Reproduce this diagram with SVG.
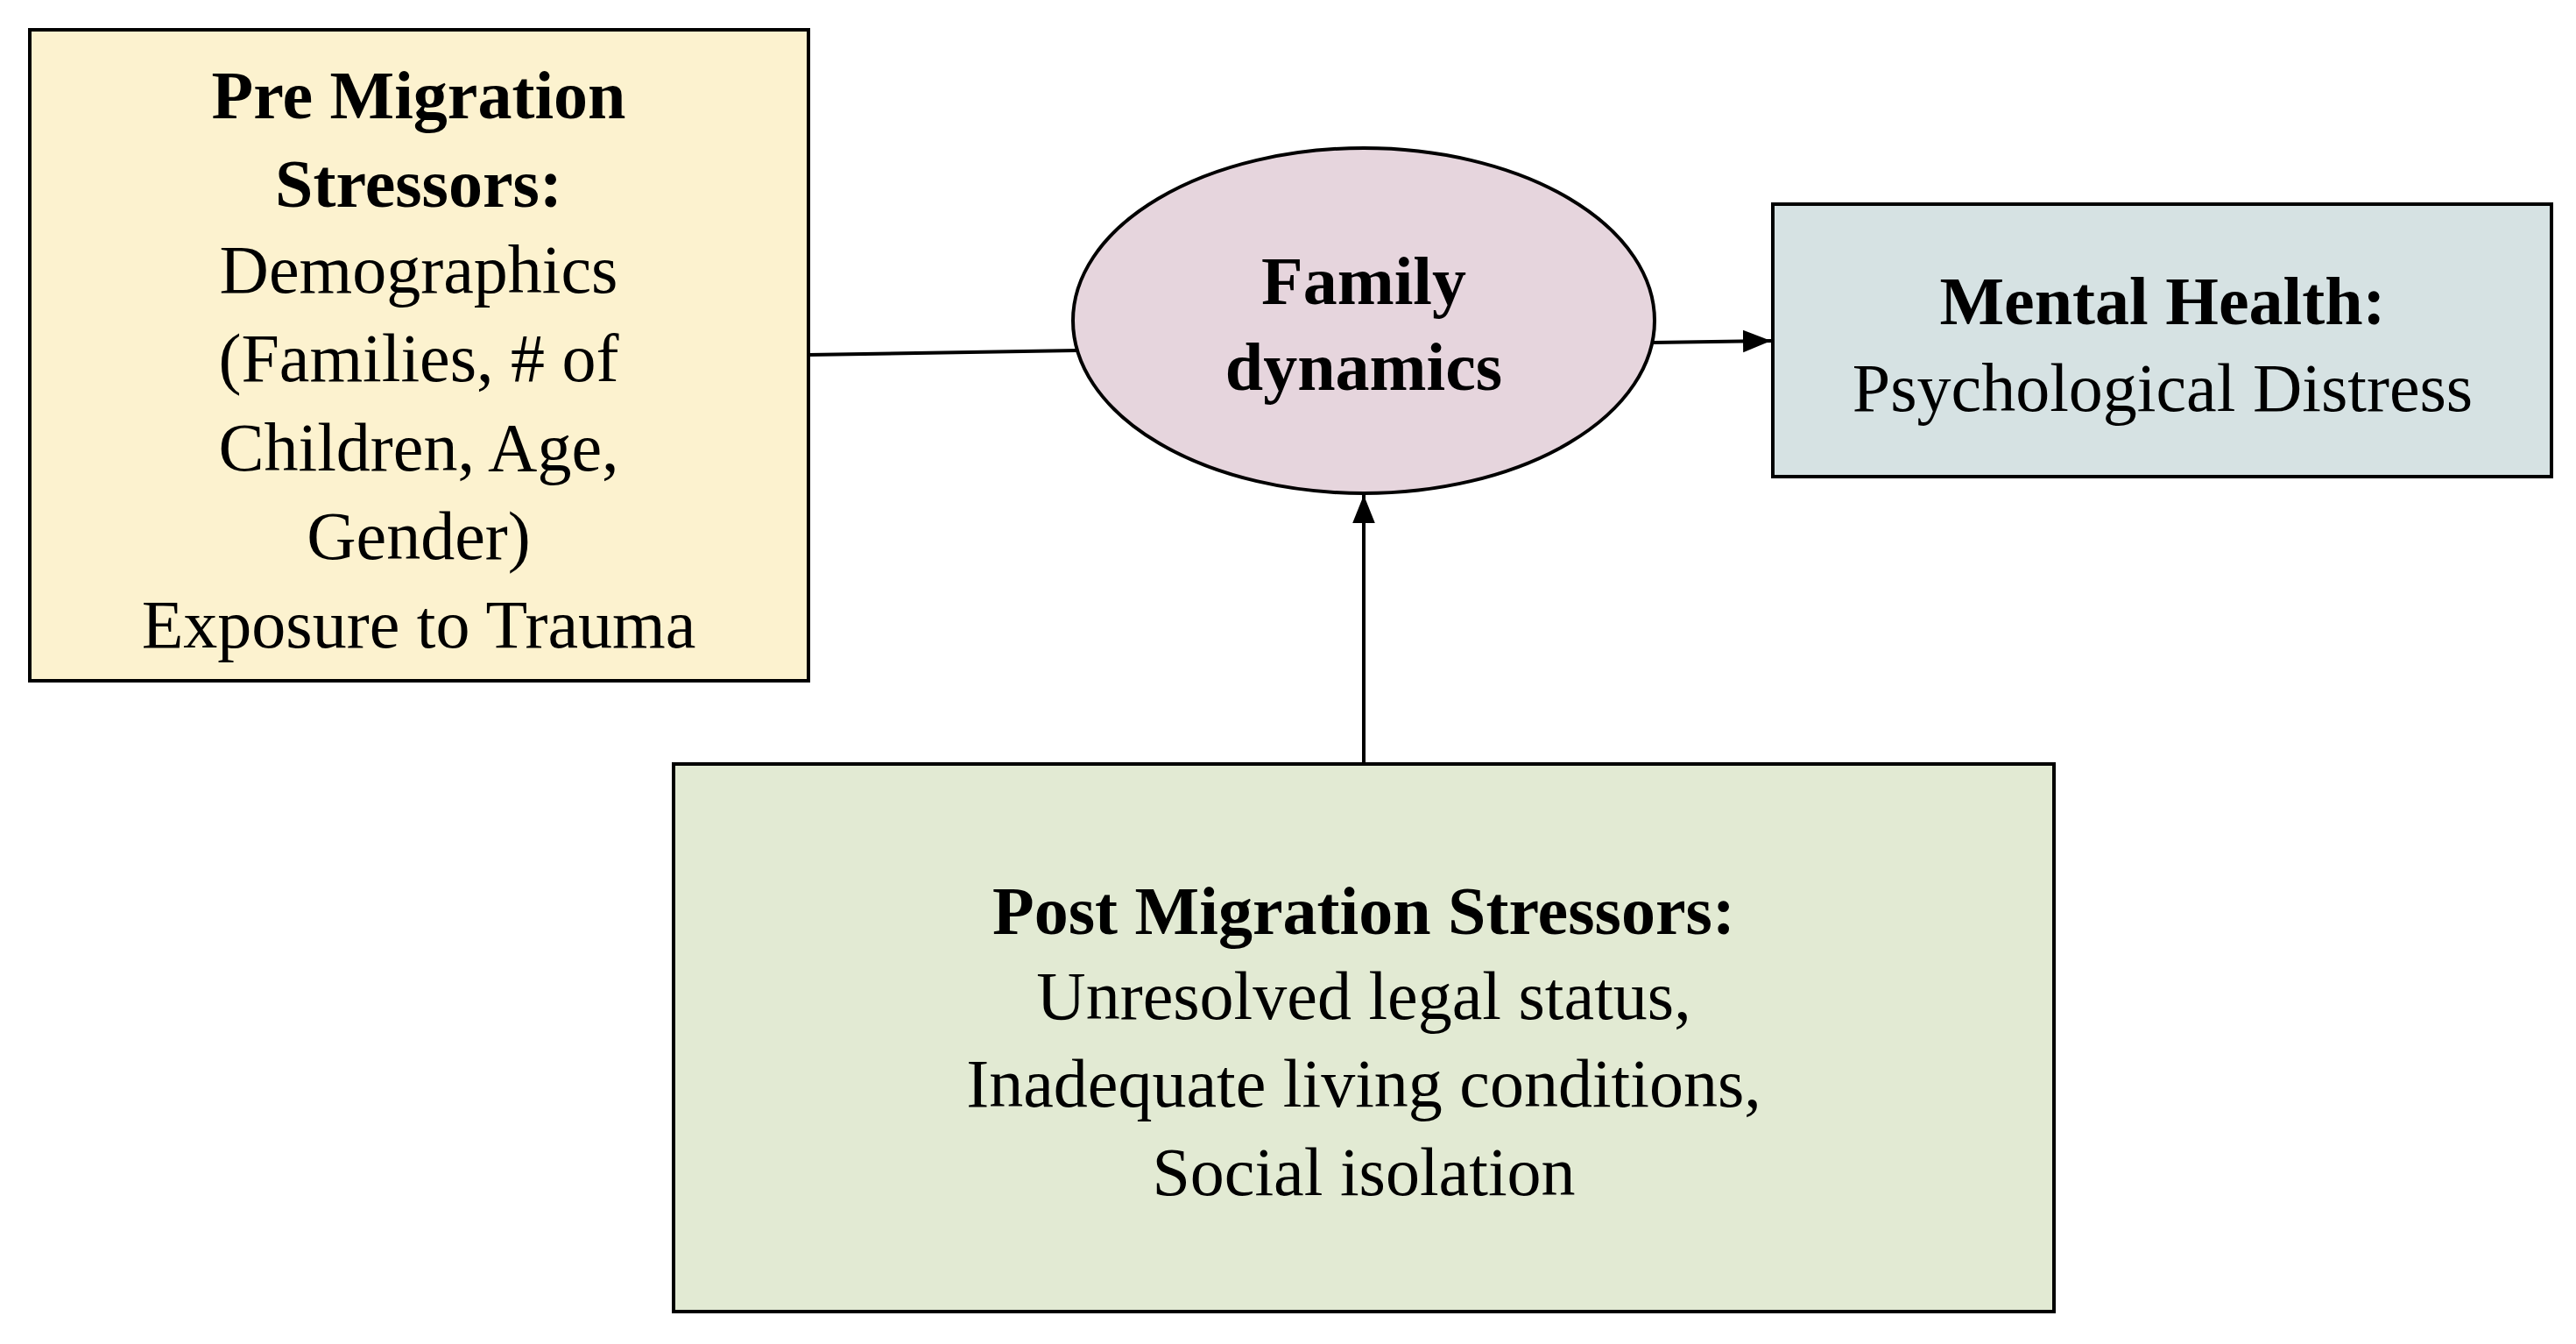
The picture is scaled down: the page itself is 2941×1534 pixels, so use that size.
<svg xmlns="http://www.w3.org/2000/svg" width="2941" height="1534" viewBox="0 0 2941 1534">
<style>
.b{stroke:#000;stroke-width:4}
text{font-family:"Liberation Serif","Times New Roman",serif;font-size:78px;text-anchor:middle;fill:#000}
.h{font-weight:bold}
</style>
<defs><marker id="a" viewBox="0 0 10 10" refX="10" refY="5" markerWidth="9" markerHeight="9" markerUnits="userSpaceOnUse" orient="auto"><path d="M0,0L10,5L0,10z"/></marker>
<marker id="m" viewBox="0 0 10 10" refX="10" refY="5" markerWidth="32" markerHeight="32" markerUnits="userSpaceOnUse" orient="auto"><path d="M0,1L10,5L0,9z"/></marker></defs>
<rect width="2941" height="1534" fill="#fff"/>
<g id="connectors" stroke="#000" stroke-width="4" fill="none">
<line x1="923" y1="405" x2="1229" y2="400"/>
<line x1="1887" y1="391" x2="2022" y2="389" marker-end="url(#m)"/>
<line x1="1557" y1="872" x2="1557" y2="565" marker-end="url(#m)"/>
</g>
<g id="pre"><rect class="b" x="34" y="34" width="889" height="743" fill="#FCF2CF"/>
<text x="478" y="135" class="h">Pre Migration</text><text x="478" y="236" class="h">Stressors:</text>
<text x="478" y="334">Demographics</text><text x="478" y="435">(Families, # of</text><text x="478" y="537">Children, Age,</text><text x="478" y="638">Gender)</text><text x="478" y="739">Exposure to Trauma</text></g>
<g id="family"><ellipse class="b" cx="1557" cy="366" rx="332" ry="197" fill="#E6D5DD"/>
<text x="1557" y="347" class="h">Family</text><text x="1557" y="445" class="h">dynamics</text></g>
<g id="mental"><rect class="b" x="2024" y="233" width="889" height="311" fill="#D6E2E3"/>
<text x="2469" y="370" class="h">Mental Health:</text><text x="2469" y="469">Psychological Distress</text></g>
<g id="post"><rect class="b" x="769" y="872" width="1576" height="625" fill="#E2EAD3"/>
<text x="1557" y="1066" class="h">Post Migration Stressors:</text><text x="1557" y="1163">Unresolved legal status,</text><text x="1557" y="1263">Inadequate living conditions,</text><text x="1557" y="1364">Social isolation</text></g>
</svg>
